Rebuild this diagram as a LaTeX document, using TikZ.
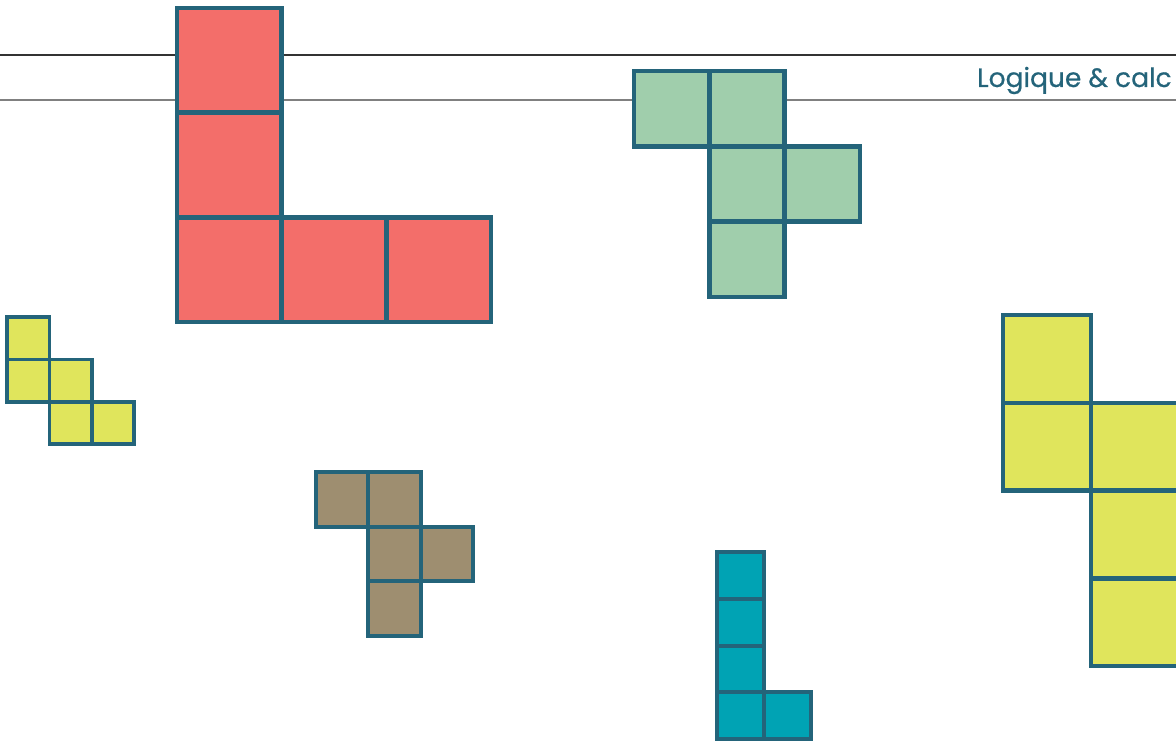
\documentclass[tikz,border=0pt]{standalone}
\usepackage{fontspec}
\newfontfamily\titlefont[FakeBold=0.6]{Poppins}
\definecolor{edge}{HTML}{24647A}
\definecolor{redtile}{HTML}{F36E6A}
\definecolor{greentile}{HTML}{A0CEAC}
\definecolor{yellowtile}{HTML}{E0E55C}
\definecolor{browntile}{HTML}{9E8E70}
\definecolor{cyantile}{HTML}{00A3B4}

\begin{document}
\begin{tikzpicture}[x=1pt, y=-1pt,
    cell/.style={draw=edge, line width=4.5pt, line join=miter}]
    \useasboundingbox (0,0) rectangle (1176,743);
    \clip (0,0) rectangle (1176,743);

    % header rules and title
    \draw[line width=1.2pt, black!80] (0,55) -- (1176,55);
    \draw[line width=1.2pt, black!50] (0,100) -- (1176,100);
    \node[anchor=base west, inner sep=0pt, text=edge,
          font=\titlefont\fontsize{26.5}{30}\selectfont] (title) at (977,87) {Logique \& calc};

    % big red L
    \def\s{104.7}
    \foreach \i/\j in {0/0, 0/1, 0/2, 1/2, 2/2}
        \filldraw[cell, fill=redtile] (177+\i*\s, 8+\j*\s) rectangle ++(\s,\s);

    % green piece
    \def\s{75.3}
    \foreach \i/\j in {0/0, 1/0, 1/1, 2/1, 1/2}
        \filldraw[cell, fill=greentile] (634+\i*\s, 71+\j*\s) rectangle ++(\s,\s);

    % small yellow stairs
    \def\s{42.4}
    \foreach \i/\j in {0/0, 0/1, 1/1, 1/2, 2/2}
        \filldraw[cell, line width=3.5pt, fill=yellowtile] (7+\i*\s, 317+\j*\s) rectangle ++(\s,\s);

    % brown piece
    \foreach \i/\j in {0/0, 1/0, 1/1, 2/1, 1/2}
        \filldraw[cell, line width=4pt, fill=browntile] (316+\i*52.3, 472+\j*54.5) rectangle ++(52.3,54.5);

    % cyan L
    \def\s{46.8}
    \foreach \i/\j in {0/0, 0/1, 0/2, 0/3, 1/3}
        \filldraw[cell, line width=4pt, fill=cyantile] (717+\i*\s, 552+\j*\s) rectangle ++(\s,\s);

    % big yellow piece
    \def\s{87.8}
    \foreach \i/\j in {0/0, 0/1, 1/1, 1/2, 1/3}
        \filldraw[cell, fill=yellowtile] (1003+\i*\s, 315+\j*\s) rectangle ++(\s,\s);

\end{tikzpicture}
\end{document}
